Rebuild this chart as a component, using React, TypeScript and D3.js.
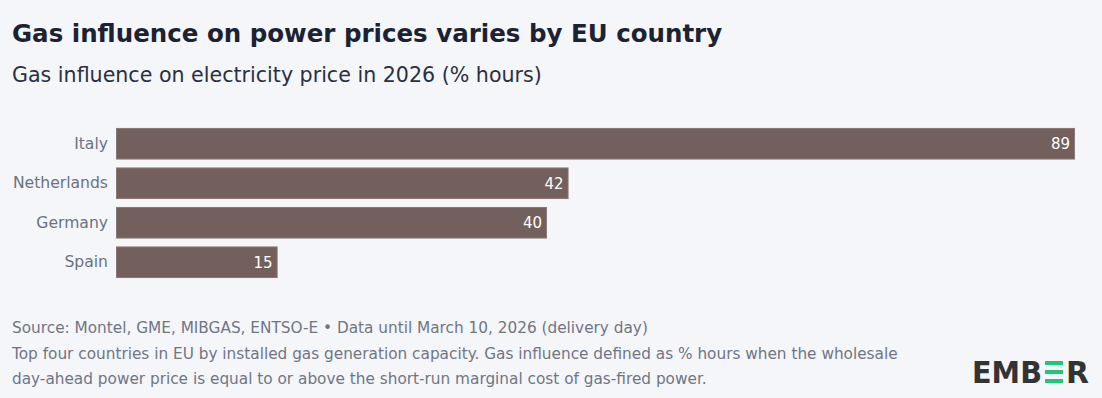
import { useEffect, useRef } from 'react';
import * as d3 from 'd3';

// Chart data
const countries = ['Italy', 'Netherlands', 'Germany', 'Spain'];
const gasHours = [89, 42, 40, 15];

const TITLE = 'Gas influence on power prices varies by EU country';
const SUBTITLE = 'Gas influence on electricity price in 2026 (% hours)';
const FOOTNOTES = [
  'Source: Montel, GME, MIBGAS, ENTSO-E \u2022 Data until March 10, 2026 (delivery day)',
  'Top four countries in EU by installed gas generation capacity. Gas influence defined as % hours when the wholesale',
  'day-ahead power price is equal to or above the short-run marginal cost of gas-fired power.',
];

const COLORS = {
  bg: '#f5f6fa',
  bar: '#735f5b',
  barEdge: '#8a7873',
  title: '#1b2232',
  subtitle: '#2a3040',
  label: '#6b7280',
  note: '#6f7584',
  logo: '#333333',
  logoGreen: '#1fc778',
};

const FONT = '"DejaVu Sans", sans-serif';
const WIDTH = 1102;
const HEIGHT = 398;

export default function App() {
  const svgRef = useRef<SVGSVGElement>(null);

  useEffect(() => {
    if (!svgRef.current) return;
    const svg = d3.select(svgRef.current);
    svg.selectAll('*').remove();

    svg.append('rect')
      .attr('width', WIDTH)
      .attr('height', HEIGHT)
      .attr('fill', COLORS.bg);

    // Title + subtitle
    svg.append('text')
      .attr('x', 12)
      .attr('y', 42)
      .attr('font-family', FONT)
      .attr('font-size', '24.5px')
      .attr('font-weight', 700)
      .attr('fill', COLORS.title)
      .text(TITLE);

    svg.append('text')
      .attr('x', 12)
      .attr('y', 82)
      .attr('font-family', FONT)
      .attr('font-size', '20.6px')
      .attr('fill', COLORS.subtitle)
      .text(SUBTITLE);

    // Scales
    const margin = { left: 116, top: 124 };
    const x = d3.scaleLinear()
      .domain([0, d3.max(gasHours) as number])
      .range([margin.left, 1075]);

    const y = d3.scaleBand()
      .domain(countries)
      .range([margin.top, margin.top + 39.5 * countries.length])
      .paddingInner(0.2)
      .paddingOuter(0.1);

    const g = svg.append('g');

    g.selectAll('rect.bar')
      .data(countries)
      .join('rect')
      .attr('class', 'bar')
      .attr('x', x(0) + 0.5)
      .attr('y', d => (y(d) || 0) + 0.5)
      .attr('width', (_, i) => x(gasHours[i]) - x(0) - 1)
      .attr('height', y.bandwidth() - 1)
      .attr('fill', COLORS.bar)
      .attr('stroke', COLORS.barEdge)
      .attr('stroke-width', 1);

    g.selectAll('text.value')
      .data(countries)
      .join('text')
      .attr('class', 'value')
      .attr('x', (_, i) => x(gasHours[i]) - 5)
      .attr('y', d => (y(d) || 0) + y.bandwidth() / 2)
      .attr('dy', '0.35em')
      .attr('text-anchor', 'end')
      .attr('font-family', FONT)
      .attr('font-size', '15px')
      .attr('font-weight', 500)
      .attr('fill', '#ffffff')
      .text((_, i) => String(gasHours[i]));

    // Category axis
    const axis = svg.append('g')
      .attr('transform', `translate(${margin.left},0)`)
      .call(d3.axisLeft(y).tickSize(0).tickPadding(8));
    axis.select('.domain').remove();
    axis.selectAll('.tick text')
      .attr('font-family', FONT)
      .attr('font-size', '15.6px')
      .attr('fill', COLORS.label);

    // Footnotes
    svg.append('g')
      .selectAll('text')
      .data(FOOTNOTES)
      .join('text')
      .attr('x', 12)
      .attr('y', (_, i) => 333 + i * 25.5)
      .attr('font-family', FONT)
      .attr('font-size', '15.3px')
      .attr('fill', COLORS.note)
      .text(d => d);

    // EMBER logo
    const logo = svg.append('g').attr('transform', 'translate(972,383)');
    logo.append('text')
      .attr('x', 0)
      .attr('y', 0)
      .attr('font-family', '"DejaVu Sans", sans-serif')
      .attr('font-size', '30px')
      .attr('font-weight', 700)
      .attr('fill', COLORS.logo)
      .attr('textLength', 70)
      .attr('lengthAdjust', 'spacingAndGlyphs')
      .text('EMB');
    [0, 1, 2].forEach(i => {
      logo.append('rect')
        .attr('x', 73)
        .attr('y', -22 + i * 9)
        .attr('width', 18)
        .attr('height', 4)
        .attr('fill', COLORS.logoGreen);
    });
    logo.append('text')
      .attr('x', 94)
      .attr('y', 0)
      .attr('font-family', '"DejaVu Sans", sans-serif')
      .attr('font-size', '30px')
      .attr('font-weight', 700)
      .attr('fill', COLORS.logo)
      .attr('textLength', 23)
      .attr('lengthAdjust', 'spacingAndGlyphs')
      .text('R');
  }, []);

  return (
    <svg
      ref={svgRef}
      width={WIDTH}
      height={HEIGHT}
      style={{ display: 'block', position: 'absolute', left: 0, top: 0 }}
    />
  );
}
